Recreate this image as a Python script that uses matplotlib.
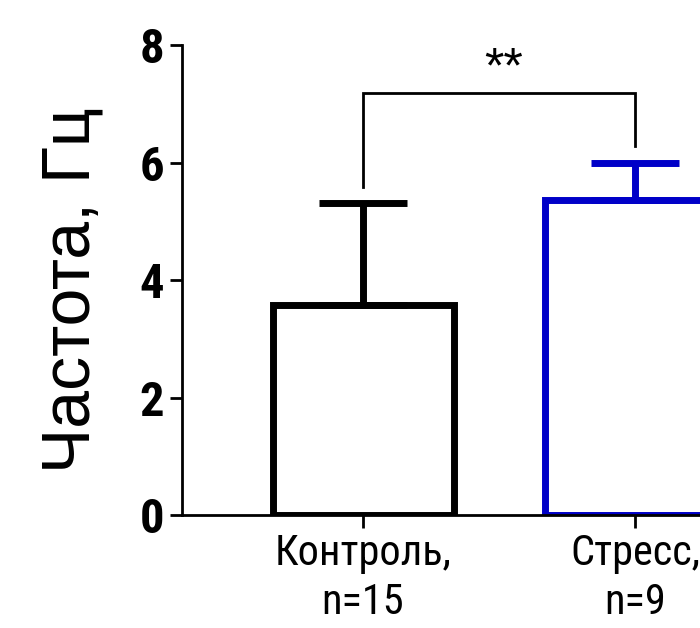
import matplotlib
matplotlib.use("Agg")
import matplotlib.pyplot as plt

groups = ["Контроль,\nn=15", "Стресс,\nn=9"]
means = [3.57, 5.36]
sems = [1.74, 0.63]
colours = ["black", "#0000c8"]
y_ticks = [0, 2, 4, 6, 8]
signif = "**"

NARROW = ["Roboto Condensed", "DejaVu Sans"]
REGULAR = ["Liberation Sans", "DejaVu Sans"]

fig = plt.figure(figsize=(7, 6.28), dpi=100)
ax = fig.add_axes([0.26, 0.18, 0.906, 0.748])

x = list(range(len(groups)))
for i in x:
    ax.bar(i, means[i], width=0.665, facecolor="white", edgecolor=colours[i],
           linewidth=5, zorder=2)
    ax.errorbar(i, means[i], yerr=[[0], [sems[i]]], color=colours[i],
                elinewidth=5, capsize=32, capthick=5, zorder=3)

# significance bracket
top = 7.18
ax.plot([0, 0, 1, 1], [means[0] + sems[0] + 0.27, top, top, means[1] + sems[1] + 0.3],
        color="black", linewidth=2, solid_joinstyle="miter", zorder=4)
ax.text(0.517, top + 0.18, signif, ha="center", va="baseline", fontsize=36,
        family=REGULAR)

ax.set_xlim(-0.665, 1.665)
ax.set_ylim(0, 8)
ax.set_yticks(y_ticks)
ax.set_yticklabels([str(t) for t in y_ticks], fontsize=35, fontweight="bold",
                   family=NARROW)
ax.set_xticks(x)
ax.set_xticklabels(groups, fontsize=30.5, family=NARROW, linespacing=1.25)
ax.set_ylabel("Частота, Гц", fontsize=49, family=REGULAR, va="center")
ax.yaxis.set_label_coords(-0.1735, 0.479)

for side in ["top", "right"]:
    ax.spines[side].set_visible(False)
for side in ["left", "bottom"]:
    ax.spines[side].set_linewidth(2)
ax.spines["left"].set_zorder(5)
ax.tick_params(axis="both", width=2, length=9, pad=4)

fig.savefig("out.png", dpi=100)
